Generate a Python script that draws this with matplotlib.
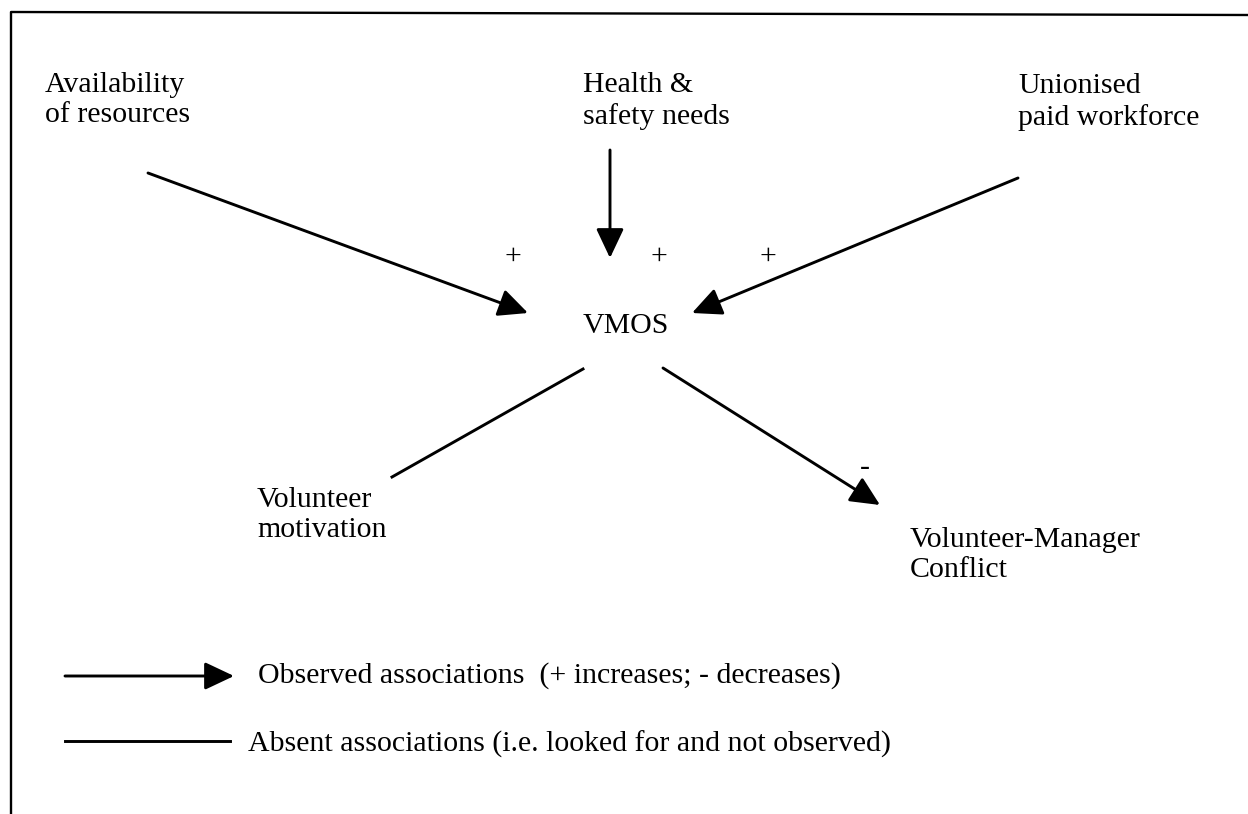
import matplotlib
matplotlib.use("Agg")
import matplotlib.pyplot as plt
from matplotlib.patches import FancyArrowPatch

plt.rcParams['font.family'] = ['Liberation Serif', 'DejaVu Serif']

# ---- content ----
node_labels = ["Availability\nof resources", "Health &\nsafety needs",
               "Unionised\npaid workforce", "VMOS",
               "Volunteer\nmotivation", "Volunteer-Manager\nConflict"]
edge_kinds = ["observed", "observed", "observed", "absent", "observed"]
edge_signs = ["+", "+", "+", "", "-"]
legend_kinds = ["observed", "absent"]
legend_labels = ["Observed associations  (+ increases; - decreases)",
                 "Absent associations (i.e. looked for and not observed)"]

# ---- layout (pixel coordinates, y downwards) ----
label_xy = [(45, 72), (583, 72), (1018, 73), (583, 313), (257, 487), (910, 527)]
edge_paths = [((148, 173), (528, 313)), ((610, 150), (610, 258)),
              ((1018, 178), (692, 313)), ((583, 369), (392, 477)),
              ((663, 368), (880, 505))]
sign_xy = [(513, 257), (659, 257), (768, 257), None, (865, 468)]
legend_paths = [((65, 676), (234, 676)), ((65, 741), (230, 741))]
legend_text_xy = [(258, 683), (248, 752)]

W, H = 1248, 814
FS = 21.5
LW = 2.1

fig = plt.figure(figsize=(W / 100, H / 100), dpi=100)
ax = fig.add_axes([0, 0, 1, 1])
ax.set_xlim(0, W)
ax.set_ylim(H, 0)
ax.axis("off")

# frame (top and left only)
ax.plot([11, 11, W], [H, 12, 15], color="black", lw=1.7, solid_capstyle="butt")


def draw_edge(p0, p1, kind):
    if kind == "observed":
        arr = FancyArrowPatch(p0, p1, arrowstyle="-|>,head_length=18,head_width=8.5",
                              mutation_scale=1, shrinkA=0, shrinkB=0,
                              color="black", lw=LW)
        ax.add_patch(arr)
    else:
        ax.plot([p0[0], p1[0]], [p0[1], p1[1]], color="black", lw=LW)


for lab, (x, y) in zip(node_labels, label_xy):
    ax.text(x, y, lab, fontsize=FS, ha="left", va="top", linespacing=1.22)

for (p0, p1), kind in zip(edge_paths, edge_kinds):
    draw_edge(p0, p1, kind)

for s, xy in zip(edge_signs, sign_xy):
    if s and xy is not None:
        ax.text(xy[0], xy[1], s, fontsize=FS, ha="center", va="center")

for (p0, p1), kind, lab, (tx, ty) in zip(legend_paths, legend_kinds, legend_labels, legend_text_xy):
    draw_edge(p0, p1, kind)
    ax.text(tx, ty, lab, fontsize=FS, ha="left", va="baseline")

fig.savefig("out.png", dpi=100)
